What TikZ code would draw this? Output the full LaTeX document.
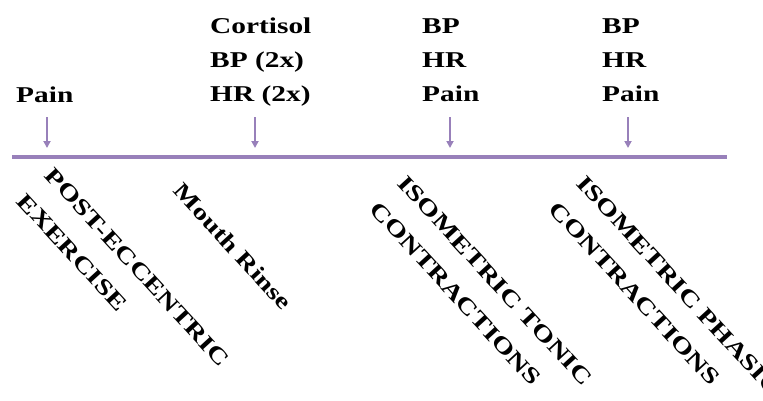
\documentclass[tikz,border=0pt]{standalone}
\usepackage{fontspec}
\setmainfont{Liberation Serif}
\newfontfamily\widefont{Liberation Serif}[FakeStretch=1.3]
\usetikzlibrary{arrows.meta}
\definecolor{lineviolet}{RGB}{152,128,186}

\begin{document}
\begin{tikzpicture}[x=1pt, y=-1pt,
        toplabel/.style={anchor=north west, inner sep=0pt, align=left,
            font=\widefont\bfseries\fontsize{22.6}{34}\selectfont},
        phase/.style={anchor=north west, inner sep=0pt, align=left,
            rotate=-47.5,
            font=\widefont\bfseries\fontsize{22.6}{38}\selectfont},
        timeline/.style={lineviolet, line width=4pt},
        measarrow/.style={lineviolet, line width=1.8pt,
            -{Triangle[length=7pt, width=7pt]}}]
        \useasboundingbox (0,0) rectangle (763,400);

        % time axis
        \coordinate (axisL) at (12,157);
        \coordinate (axisR) at (727,157);
        \draw[timeline] (axisL) -- (axisR);

        % measurements
        \node[toplabel] (m1) at (16,87) {Pain};
        \node[toplabel] (m2) at (210,18) {Cortisol\\BP (2x)\\HR (2x)};
        \node[toplabel] (m3) at (422,18) {BP\\HR\\Pain};
        \node[toplabel] (m4) at (602,18) {BP\\HR\\Pain};

        \coordinate (a1) at (47,117);  \coordinate (b1) at (47,148);
        \coordinate (a2) at (255,117); \coordinate (b2) at (255,148);
        \coordinate (a3) at (450,117); \coordinate (b3) at (450,148);
        \coordinate (a4) at (628,117); \coordinate (b4) at (628,148);
        \draw[measarrow] (a1) -- (b1);
        \draw[measarrow] (a2) -- (b2);
        \draw[measarrow] (a3) -- (b3);
        \draw[measarrow] (a4) -- (b4);

        % phases
        \coordinate (s1) at (55,166);
        \coordinate (s2) at (184,181);
        \coordinate (s3) at (408,174);
        \coordinate (s4) at (587,174);
        \node[phase] (p1) at (s1) {POST-ECCENTRIC\\EXERCISE};
        \node[phase] (p2) at (s2) {Mouth Rinse};
        \node[phase] (p3) at (s3) {ISOMETRIC TONIC\\CONTRACTIONS};
        \node[phase] (p4) at (s4) {ISOMETRIC PHASIC\\CONTRACTIONS};
\end{tikzpicture}
\end{document}
